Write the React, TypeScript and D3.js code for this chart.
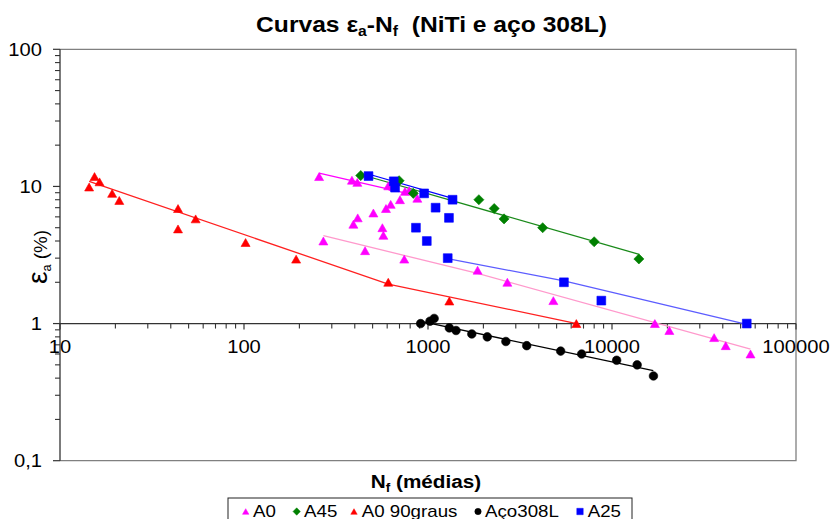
import React from 'react';
import * as d3 from 'd3';

// ---- data ----
const xTickValues = [10, 100, 1000, 10000, 100000];
const xTickLabels = ['10', '100', '1000', '10000', '100000'];
const yTickValues = [0.1, 1, 10, 100];
const yTickLabels = ['0,1', '1', '10', '100'];

const a0: [number, number][] = [
  [256, 11.8], [386, 11.1], [413, 10.7], [608, 10.1], [648, 10.0], [750, 9.2], [790, 9.3], [875, 8.2],
  [393, 5.3], [415, 5.9], [505, 6.4], [565, 5.0], [572, 4.4], [591, 6.9], [627, 7.4], [704, 8.0],
  [270, 4.0], [455, 3.4], [743, 2.95], [1860, 2.45], [2700, 2.0], [4800, 1.47], [17100, 1.0],
  [20500, 0.89], [35900, 0.79], [41500, 0.69], [56600, 0.6],
];
const a45: [number, number][] = [
  [431, 12.0], [697, 11.0], [832, 8.9], [1890, 8.0], [2290, 6.9], [2590, 5.8], [4200, 5.0], [8000, 3.95], [14000, 2.96],
];
const a0_90: [number, number][] = [
  [14.4, 9.9], [15.4, 11.8], [16.4, 10.8], [19.2, 8.9], [21, 7.9], [43.8, 6.9], [43.8, 4.9], [54.6, 5.8],
  [102, 3.9], [192, 2.95], [608, 2.0], [1306, 1.46], [6400, 1.0],
];
const aco308: [number, number][] = [
  [912, 1.0], [1025, 1.04], [1080, 1.09], [1306, 0.93], [1420, 0.89], [1730, 0.84], [2100, 0.8],
  [2650, 0.74], [3440, 0.69], [5260, 0.63], [6840, 0.6], [10600, 0.54], [13700, 0.5], [16800, 0.415],
];
const a25: [number, number][] = [
  [475, 11.9], [652, 10.9], [662, 9.8], [953, 8.9], [1360, 8.0], [1100, 7.0], [1300, 5.9], [860, 5.0],
  [985, 4.0], [1280, 3.0], [5480, 2.0], [8750, 1.47], [54000, 1.0],
];

const a0TrendUpper: [number, number][] = [[256, 12.5], [868, 8.56]];
const a0TrendLower: [number, number][] = [[270, 4.38], [1860, 2.32], [56600, 0.65]];
const a45Trend: [number, number][] = [[427, 12.27], [14060, 3.2]];
const a0_90Trend: [number, number][] = [[14.4, 10.9], [608, 1.94], [6430, 1.0]];
const acoTrend: [number, number][] = [[943, 1.03], [16770, 0.453]];
const a25TrendUpper: [number, number][] = [[478, 12.27], [1362, 8.2]];
const a25TrendLower: [number, number][] = [[1276, 2.97], [5480, 2.05], [53950, 0.985]];

const seriesNames = ['A0', 'A45', 'A0 90graus', 'Aço308L', 'A25'];

// ---- layout ----
const W = 831, H = 519;
const L = 60, R = 796, T = 49.3, B = 460.7;
const FONT = "'Liberation Sans', Arial, sans-serif";
const SX = 1.12;

const x = d3.scaleLog().domain([10, 100000]).range([L, R]);
const y = d3.scaleLog().domain([0.1, 100]).range([B, T]);

type Shape = 'triangle' | 'diamond' | 'circle' | 'square';

function shapePath(shape: Shape, s: number): string {
  const h = s / 2;
  if (shape === 'triangle') {
    const hh = (s * 0.88) / 2;
    return `M0,${-hh}L${h},${hh}L${-h},${hh}Z`;
  }
  if (shape === 'diamond') {
    const d = h * 1.15;
    return `M0,${-d}L${d},0L0,${d}L${-d},0Z`;
  }
  if (shape === 'square') return `M${-h},${-h}H${h}V${h}H${-h}Z`;
  const p = d3.path();
  p.arc(0, 0, h, 0, Math.PI * 2);
  return p.toString();
}

const series = [
  { name: seriesNames[0], color: '#ff00ff', shape: 'triangle' as Shape, pts: a0, size: 9 },
  { name: seriesNames[1], color: '#008000', shape: 'diamond' as Shape, pts: a45, size: 8.8 },
  { name: seriesNames[2], color: '#ff0000', shape: 'triangle' as Shape, pts: a0_90, size: 9 },
  { name: seriesNames[3], color: '#000000', shape: 'circle' as Shape, pts: aco308, size: 8.6 },
  { name: seriesNames[4], color: '#0000ff', shape: 'square' as Shape, pts: a25, size: 8.8 },
];

const trends = [
  { pts: a0TrendUpper, color: '#ff00ff' },
  { pts: a0TrendLower, color: '#ff99cc' },
  { pts: a45Trend, color: '#1a8a1a' },
  { pts: a0_90Trend, color: '#ff2020' },
  { pts: acoTrend, color: '#000000' },
  { pts: a25TrendUpper, color: '#0000ff' },
  { pts: a25TrendLower, color: '#5c5cff' },
];

const legendMarkerX = [245.7, 296.7, 354, 478, 580];
const legendTextX = [253, 304, 361.7, 485, 587.7];

const line = d3.line<[number, number]>().x(d => x(d[0])).y(d => y(d[1]));

function Txt(props: { x: number; y: number; anchor?: string; size: number; weight?: string | number; sx?: number; children: React.ReactNode }) {
  const { x: tx, y: ty, anchor = 'start', size, weight = 'normal', sx = SX, children } = props;
  return (
    <text
      transform={`translate(${tx},${ty}) scale(${sx},1)`}
      textAnchor={anchor as any}
      fontSize={size}
      fontWeight={weight as any}
      fontFamily={FONT}
      fill="#000"
      style={{ whiteSpace: 'pre' }}
    >
      {children}
    </text>
  );
}

export default function App() {
  const xMinor: number[] = [];
  [10, 100, 1000, 10000].forEach(d => { for (let k = 2; k <= 9; k++) xMinor.push(d * k); });
  const yMinor: number[] = [];
  [0.1, 1, 10].forEach(d => { for (let k = 2; k <= 9; k++) yMinor.push(d * k); });
  const y1 = y(1);

  return (
    <svg width={W} height={H} style={{ position: 'fixed', left: 0, top: 0, background: '#fff' }}>
      <rect x={0} y={0} width={W} height={H} fill="#fff" />
      {/* title */}
      <Txt x={431.5} y={31.5} anchor="middle" size={22} weight="bold">
        Curvas ε<tspan dy={4} fontSize={14}>a</tspan><tspan dy={-4}>-N</tspan><tspan dy={4} fontSize={14}>f</tspan><tspan dy={-4}>{'  (NiTi e aço 308L)'}</tspan>
      </Txt>

      {/* plot border */}
      <path d={`M${L},${T}H${R}V${B}H${L}`} fill="none" stroke="#808080" strokeWidth={1.3} />

      {/* y axis */}
      <line x1={L} x2={L} y1={T} y2={B} stroke="#333" strokeWidth={1.3} />
      {yTickValues.map(v => (
        <line key={'ym' + v} x1={L - 7} x2={L} y1={y(v)} y2={y(v)} stroke="#333" strokeWidth={1.2} />
      ))}
      {yMinor.map(v => (
        <line key={'yn' + v} x1={L - 5} x2={L} y1={y(v)} y2={y(v)} stroke="#333" strokeWidth={1.1} />
      ))}
      {yTickValues.map((v, i) => (
        <Txt key={'yl' + v} x={42} y={y(v) + 6.5} anchor="end" size={18}>{yTickLabels[i]}</Txt>
      ))}

      {/* x axis at y = 1 */}
      <line x1={L} x2={R} y1={y1} y2={y1} stroke="#333" strokeWidth={1.3} />
      {xTickValues.map(v => (
        <line key={'xm' + v} x1={x(v)} x2={x(v)} y1={y1} y2={y1 + 6} stroke="#333" strokeWidth={1.2} />
      ))}
      {xMinor.map(v => (
        <line key={'xn' + v} x1={x(v)} x2={x(v)} y1={y1} y2={y1 + 5} stroke="#333" strokeWidth={1.1} />
      ))}
      {xTickValues.map((v, i) => (
        <Txt key={'xl' + v} x={x(v)} y={352.7} anchor="middle" size={18}>{xTickLabels[i]}</Txt>
      ))}

      {/* axis titles */}
      <Txt x={426} y={488} anchor="middle" size={18.5} weight="bold">
        N<tspan dy={4} fontSize={12}>f</tspan><tspan dy={-4}>{' (médias)'}</tspan>
      </Txt>
      <text transform="translate(47,257) rotate(-90) scale(1.05,1)" textAnchor="middle" fontFamily={FONT} fontSize={18} fill="#000" style={{ whiteSpace: 'pre' }}>
        <tspan fontSize={27}>ε</tspan><tspan dy={4} fontSize={12}>a</tspan><tspan dy={-4}>{' (%)'}</tspan>
      </text>

      {/* trendlines */}
      {trends.map((t, i) => (
        <path key={'t' + i} d={line(t.pts) || ''} fill="none" stroke={t.color} strokeWidth={1.3} />
      ))}

      {/* markers */}
      {series.map(s => (
        <g key={s.name}>
          {s.pts.map((p, j) => (
            <path key={j} d={shapePath(s.shape, s.size)} transform={`translate(${x(p[0])},${y(p[1])})`} fill={s.color} stroke={s.color} strokeWidth={0.6} />
          ))}
        </g>
      ))}

      {/* legend */}
      <rect x={228} y={498} width={404} height={40} fill="#fff" stroke="#222" strokeWidth={1} />
      {series.map((s, i) => (
        <g key={'lg' + s.name}>
          <path d={shapePath(s.shape, 6.4)} transform={`translate(${legendMarkerX[i]},${511.5})`} fill={s.color} stroke={s.color} strokeWidth={0.5} />
          <Txt x={legendTextX[i]} y={516.7} size={16} sx={1.17}>{s.name}</Txt>
        </g>
      ))}
    </svg>
  );
}
